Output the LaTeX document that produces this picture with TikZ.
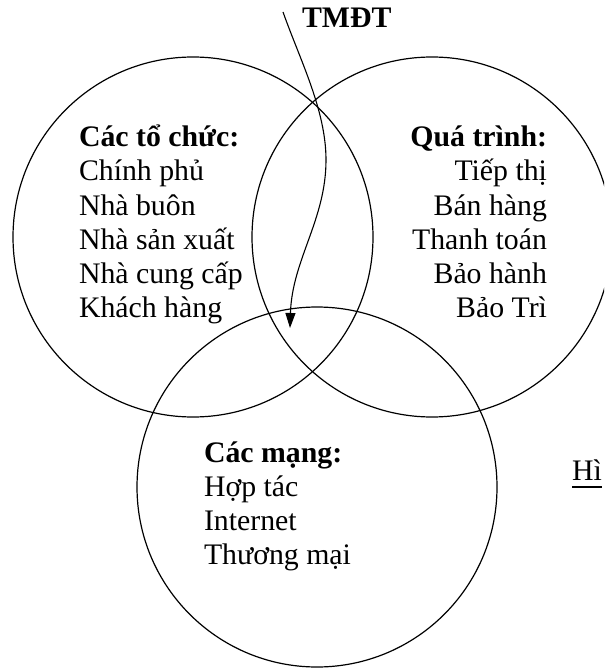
\documentclass[tikz,border=0pt]{standalone}
\usepackage{fontspec}
\setmainfont{Liberation Serif}
\usetikzlibrary{arrows.meta}

\tikzset{
  setring/.style={draw, circle, line width=1.2pt, minimum size=360pt, inner sep=0pt},
  lbl/.style={inner sep=0pt, outer sep=0pt, font=\fontsize{29.8}{34}\selectfont},
  head/.style={lbl, font=\fontsize{29.8}{34}\selectfont\bfseries},
  flow/.style={line width=1.1pt, -{Triangle[length=15pt,width=10pt]}}
}

\begin{document}
\begin{tikzpicture}[x=1pt, y=-1pt]
  \useasboundingbox (0,0) rectangle (604,668);
  \clip (0,0) rectangle (604,668);

  % the three sets
  \node[setring] (orgs)  at (193,237) {};
  \node[setring] (procs) at (432,237) {};
  \node[setring] (nets)  at (317,487) {};

  % organisations
  \node[head, anchor=base west] (o1) at (79,147) {Các tổ chức:};
  \node[lbl,  anchor=base west] (o2) at (79,181) {Chính phủ};
  \node[lbl,  anchor=base west] (o3) at (79,215) {Nhà buôn};
  \node[lbl,  anchor=base west] (o4) at (79,249) {Nhà sản xuất};
  \node[lbl,  anchor=base west] (o5) at (79,283) {Nhà cung cấp};
  \node[lbl,  anchor=base west] (o6) at (79,317) {Khách hàng};

  % processes
  \node[head, anchor=base east] (p1) at (547,147) {Quá trình:};
  \node[lbl,  anchor=base east] (p2) at (547,181) {Tiếp thị};
  \node[lbl,  anchor=base east] (p3) at (547,215) {Bán hàng};
  \node[lbl,  anchor=base east] (p4) at (547,249) {Thanh toán};
  \node[lbl,  anchor=base east] (p5) at (547,283) {Bảo hành};
  \node[lbl,  anchor=base east] (p6) at (547,317) {Bảo Trì};

  % networks
  \node[head, anchor=base west] (n1) at (204,462) {Các mạng:};
  \node[lbl,  anchor=base west] (n2) at (204,496) {Hợp tác};
  \node[lbl,  anchor=base west] (n3) at (204,530) {Internet};
  \node[lbl,  anchor=base west] (n4) at (204,564) {Thương mại};

  % title of the flow
  \node[head, anchor=base west] (tmdt) at (302,28) {TMĐT};

  % caption, running off the right edge
  \node[lbl, anchor=base west] (cap) at (572,480) {Hì};
  \draw[line width=1.4pt] ([yshift=-7pt]cap.south west) -- ([yshift=-7pt]cap.south east);

  % the e-commerce flow through the overlap
  \coordinate (fstart) at (283,12);
  \coordinate (fbend)  at (326,160);
  \coordinate (fend)   at (290,328);
  \draw[flow] (fstart) .. controls (300,60) and (326,110) .. (fbend)
                       .. controls (326,220) and (292,260) .. (fend);
\end{tikzpicture}
\end{document}
